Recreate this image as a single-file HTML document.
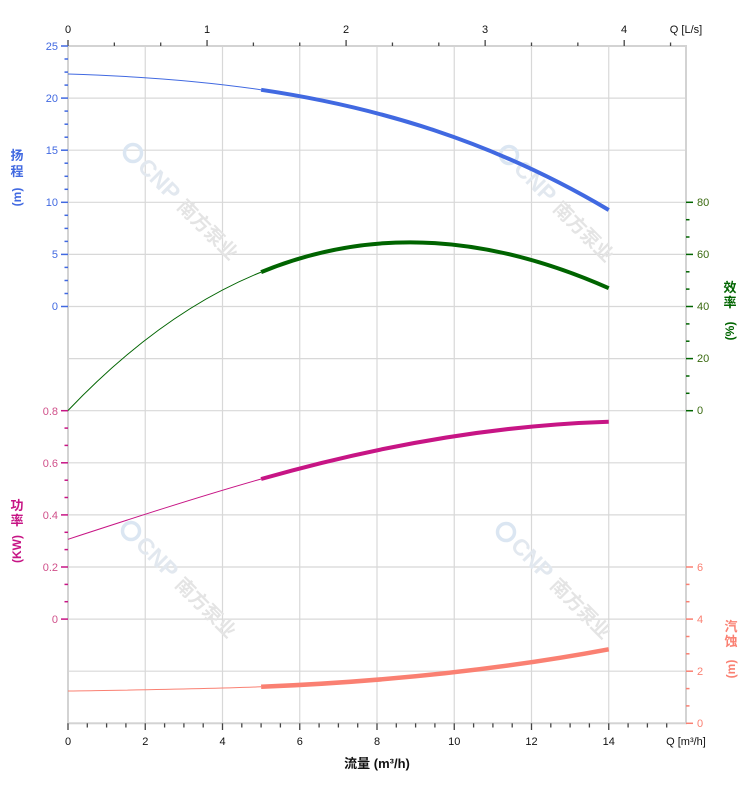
<!DOCTYPE html>
<html><head><meta charset="utf-8"><style>
html,body{margin:0;padding:0;background:#fff;}
svg{display:block;}
text{font-family:"Liberation Sans","Noto Sans CJK SC",sans-serif;}
</style></head><body>
<svg width="752" height="797" viewBox="0 0 752 797" xmlns="http://www.w3.org/2000/svg">
<rect width="752" height="797" fill="#fff"/>
<!-- grid -->
<g stroke="#d8d8d8" stroke-width="1.2" fill="none">
<line x1="68" y1="98.1" x2="686" y2="98.1"/>
<line x1="68" y1="150.2" x2="686" y2="150.2"/>
<line x1="68" y1="202.3" x2="686" y2="202.3"/>
<line x1="68" y1="254.4" x2="686" y2="254.4"/>
<line x1="68" y1="306.5" x2="686" y2="306.5"/>
<line x1="68" y1="358.6" x2="686" y2="358.6"/>
<line x1="68" y1="410.7" x2="686" y2="410.7"/>
<line x1="68" y1="462.8" x2="686" y2="462.8"/>
<line x1="68" y1="514.9" x2="686" y2="514.9"/>
<line x1="68" y1="567" x2="686" y2="567"/>
<line x1="68" y1="619.1" x2="686" y2="619.1"/>
<line x1="68" y1="671.2" x2="686" y2="671.2"/>
<line x1="145.25" y1="46" x2="145.25" y2="723.3"/>
<line x1="222.5" y1="46" x2="222.5" y2="723.3"/>
<line x1="299.75" y1="46" x2="299.75" y2="723.3"/>
<line x1="377" y1="46" x2="377" y2="723.3"/>
<line x1="454.25" y1="46" x2="454.25" y2="723.3"/>
<line x1="531.5" y1="46" x2="531.5" y2="723.3"/>
<line x1="608.75" y1="46" x2="608.75" y2="723.3"/>
</g>
<rect x="68" y="46" width="618" height="677.3" fill="none" stroke="#d3d3d3" stroke-width="2"/>

<!-- watermarks -->
<g font-weight="bold">
<g transform="translate(133,153) rotate(45)">
<circle cx="0" cy="0" r="8.5" fill="none" stroke="#dbe6f2" stroke-width="3.5"/>
<text x="13" y="8" font-size="23" fill="#e2e8ef">CNP</text>
<text x="69" y="8" font-size="19" fill="#e4e4e4" font-family="'Noto Sans CJK SC',sans-serif">南方泵业</text>
</g>
<g transform="translate(509,155) rotate(45)">
<circle cx="0" cy="0" r="8.5" fill="none" stroke="#dbe6f2" stroke-width="3.5"/>
<text x="13" y="8" font-size="23" fill="#e2e8ef">CNP</text>
<text x="69" y="8" font-size="19" fill="#e4e4e4" font-family="'Noto Sans CJK SC',sans-serif">南方泵业</text>
</g>
<g transform="translate(131,531) rotate(45)">
<circle cx="0" cy="0" r="8.5" fill="none" stroke="#dbe6f2" stroke-width="3.5"/>
<text x="13" y="8" font-size="23" fill="#e2e8ef">CNP</text>
<text x="69" y="8" font-size="19" fill="#e4e4e4" font-family="'Noto Sans CJK SC',sans-serif">南方泵业</text>
</g>
<g transform="translate(506,532) rotate(45)">
<circle cx="0" cy="0" r="8.5" fill="none" stroke="#dbe6f2" stroke-width="3.5"/>
<text x="13" y="8" font-size="23" fill="#e2e8ef">CNP</text>
<text x="69" y="8" font-size="19" fill="#e4e4e4" font-family="'Noto Sans CJK SC',sans-serif">南方泵业</text>
</g>
</g>

<!-- top ticks -->
<g stroke="#444" stroke-width="1.3">
<line x1="68" y1="40" x2="68" y2="46"/>
<line x1="114.35" y1="42.5" x2="114.35" y2="46"/>
<line x1="160.7" y1="42.5" x2="160.7" y2="46"/>
<line x1="207.05" y1="40" x2="207.05" y2="46"/>
<line x1="253.4" y1="42.5" x2="253.4" y2="46"/>
<line x1="299.75" y1="42.5" x2="299.75" y2="46"/>
<line x1="346.1" y1="40" x2="346.1" y2="46"/>
<line x1="392.45" y1="42.5" x2="392.45" y2="46"/>
<line x1="438.8" y1="42.5" x2="438.8" y2="46"/>
<line x1="485.15" y1="40" x2="485.15" y2="46"/>
<line x1="531.5" y1="42.5" x2="531.5" y2="46"/>
<line x1="577.85" y1="42.5" x2="577.85" y2="46"/>
<line x1="624.2" y1="40" x2="624.2" y2="46"/>
<line x1="670.55" y1="42.5" x2="670.55" y2="46"/>
</g>
<g font-size="11" fill="#111" text-anchor="middle">
<text x="68" y="33">0</text>
<text x="207" y="33">1</text>
<text x="346" y="33">2</text>
<text x="485" y="33">3</text>
<text x="624" y="33">4</text>
<text x="686" y="33">Q [L/s]</text>
</g>

<!-- bottom ticks -->
<g stroke="#444" stroke-width="1.3">
<line x1="68" y1="723.3" x2="68" y2="730"/>
<line x1="87.3" y1="723.3" x2="87.3" y2="727.5"/>
<line x1="106.6" y1="723.3" x2="106.6" y2="727.5"/>
<line x1="125.9" y1="723.3" x2="125.9" y2="727.5"/>
<line x1="145.25" y1="723.3" x2="145.25" y2="730"/>
<line x1="164.6" y1="723.3" x2="164.6" y2="727.5"/>
<line x1="183.9" y1="723.3" x2="183.9" y2="727.5"/>
<line x1="203.2" y1="723.3" x2="203.2" y2="727.5"/>
<line x1="222.5" y1="723.3" x2="222.5" y2="730"/>
<line x1="241.8" y1="723.3" x2="241.8" y2="727.5"/>
<line x1="261.1" y1="723.3" x2="261.1" y2="727.5"/>
<line x1="280.4" y1="723.3" x2="280.4" y2="727.5"/>
<line x1="299.75" y1="723.3" x2="299.75" y2="730"/>
<line x1="319.1" y1="723.3" x2="319.1" y2="727.5"/>
<line x1="338.4" y1="723.3" x2="338.4" y2="727.5"/>
<line x1="357.7" y1="723.3" x2="357.7" y2="727.5"/>
<line x1="377" y1="723.3" x2="377" y2="730"/>
<line x1="396.3" y1="723.3" x2="396.3" y2="727.5"/>
<line x1="415.6" y1="723.3" x2="415.6" y2="727.5"/>
<line x1="434.9" y1="723.3" x2="434.9" y2="727.5"/>
<line x1="454.25" y1="723.3" x2="454.25" y2="730"/>
<line x1="473.6" y1="723.3" x2="473.6" y2="727.5"/>
<line x1="492.9" y1="723.3" x2="492.9" y2="727.5"/>
<line x1="512.2" y1="723.3" x2="512.2" y2="727.5"/>
<line x1="531.5" y1="723.3" x2="531.5" y2="730"/>
<line x1="550.8" y1="723.3" x2="550.8" y2="727.5"/>
<line x1="570.1" y1="723.3" x2="570.1" y2="727.5"/>
<line x1="589.4" y1="723.3" x2="589.4" y2="727.5"/>
<line x1="608.75" y1="723.3" x2="608.75" y2="730"/>
<line x1="628.1" y1="723.3" x2="628.1" y2="727.5"/>
<line x1="647.4" y1="723.3" x2="647.4" y2="727.5"/>
<line x1="666.7" y1="723.3" x2="666.7" y2="727.5"/>
</g>
<g font-size="11" fill="#111" text-anchor="middle">
<text x="68" y="745">0</text>
<text x="145.25" y="745">2</text>
<text x="222.5" y="745">4</text>
<text x="299.75" y="745">6</text>
<text x="377" y="745">8</text>
<text x="454.25" y="745">10</text>
<text x="531.5" y="745">12</text>
<text x="608.75" y="745">14</text>
<text x="686" y="745">Q [m³/h]</text>
</g>
<text x="377" y="768" font-size="13" font-weight="bold" fill="#111" text-anchor="middle">流量 (m³/h)</text>

<!-- head axis (left, blue) -->
<g stroke="#4169E1" stroke-width="1.5">
<line x1="61" y1="46" x2="68" y2="46"/><line x1="61" y1="98.1" x2="68" y2="98.1"/><line x1="61" y1="150.2" x2="68" y2="150.2"/><line x1="61" y1="202.3" x2="68" y2="202.3"/><line x1="61" y1="254.4" x2="68" y2="254.4"/><line x1="61" y1="306.5" x2="68" y2="306.5"/>
<line x1="64.5" y1="59" x2="68" y2="59"/><line x1="64.5" y1="72.1" x2="68" y2="72.1"/><line x1="64.5" y1="85.1" x2="68" y2="85.1"/>
<line x1="64.5" y1="111.1" x2="68" y2="111.1"/><line x1="64.5" y1="124.2" x2="68" y2="124.2"/><line x1="64.5" y1="137.2" x2="68" y2="137.2"/>
<line x1="64.5" y1="163.2" x2="68" y2="163.2"/><line x1="64.5" y1="176.3" x2="68" y2="176.3"/><line x1="64.5" y1="189.3" x2="68" y2="189.3"/>
<line x1="64.5" y1="215.3" x2="68" y2="215.3"/><line x1="64.5" y1="228.4" x2="68" y2="228.4"/><line x1="64.5" y1="241.4" x2="68" y2="241.4"/>
<line x1="64.5" y1="267.4" x2="68" y2="267.4"/><line x1="64.5" y1="280.5" x2="68" y2="280.5"/><line x1="64.5" y1="293.5" x2="68" y2="293.5"/>
</g>
<g font-size="11" fill="#4169E1" text-anchor="end">
<text x="58" y="50">25</text><text x="58" y="102">20</text><text x="58" y="154">15</text><text x="58" y="206">10</text><text x="58" y="258">5</text><text x="58" y="310">0</text>
</g>
<g fill="#4169E1" font-weight="bold" font-size="13" text-anchor="middle">
<text x="17" y="160" font-family="'Noto Sans CJK SC',sans-serif">扬</text>
<text x="17" y="176" font-family="'Noto Sans CJK SC',sans-serif">程</text>
<text transform="translate(21,197) rotate(-90)" font-size="12">(m)</text>
</g>

<!-- power axis (left, magenta) -->
<g stroke="#C71585" stroke-width="1.5">
<line x1="61" y1="410.7" x2="68" y2="410.7"/><line x1="61" y1="462.8" x2="68" y2="462.8"/><line x1="61" y1="514.9" x2="68" y2="514.9"/><line x1="61" y1="567" x2="68" y2="567"/><line x1="61" y1="619.1" x2="68" y2="619.1"/>
<line x1="64.5" y1="428.1" x2="68" y2="428.1"/><line x1="64.5" y1="445.4" x2="68" y2="445.4"/>
<line x1="64.5" y1="480.2" x2="68" y2="480.2"/><line x1="64.5" y1="497.5" x2="68" y2="497.5"/>
<line x1="64.5" y1="532.3" x2="68" y2="532.3"/><line x1="64.5" y1="549.6" x2="68" y2="549.6"/>
<line x1="64.5" y1="584.4" x2="68" y2="584.4"/><line x1="64.5" y1="601.7" x2="68" y2="601.7"/>
</g>
<g font-size="11" fill="#D0508A" text-anchor="end">
<text x="58" y="415">0.8</text><text x="58" y="467">0.6</text><text x="58" y="519">0.4</text><text x="58" y="571">0.2</text><text x="58" y="623">0</text>
</g>
<g fill="#C71585" font-weight="bold" font-size="13" text-anchor="middle">
<text x="17" y="510" font-family="'Noto Sans CJK SC',sans-serif">功</text>
<text x="17" y="525" font-family="'Noto Sans CJK SC',sans-serif">率</text>
<text transform="translate(21,549) rotate(-90)" font-size="12">(KW)</text>
</g>

<!-- efficiency axis (right, green) -->
<g stroke="#006400" stroke-width="1.5">
<line x1="686" y1="202.3" x2="693" y2="202.3"/><line x1="686" y1="254.4" x2="693" y2="254.4"/><line x1="686" y1="306.5" x2="693" y2="306.5"/><line x1="686" y1="358.6" x2="693" y2="358.6"/><line x1="686" y1="410.7" x2="693" y2="410.7"/>
<line x1="686" y1="219.7" x2="689.5" y2="219.7"/><line x1="686" y1="237" x2="689.5" y2="237"/>
<line x1="686" y1="271.8" x2="689.5" y2="271.8"/><line x1="686" y1="289.1" x2="689.5" y2="289.1"/>
<line x1="686" y1="323.9" x2="689.5" y2="323.9"/><line x1="686" y1="341.2" x2="689.5" y2="341.2"/>
<line x1="686" y1="376" x2="689.5" y2="376"/><line x1="686" y1="393.3" x2="689.5" y2="393.3"/>
</g>
<g font-size="11" fill="#3a6a10" text-anchor="start">
<text x="697" y="206">80</text><text x="697" y="258">60</text><text x="697" y="310">40</text><text x="697" y="362">20</text><text x="697" y="414">0</text>
</g>
<g fill="#006400" font-weight="bold" font-size="13" text-anchor="middle">
<text x="730" y="292" font-family="'Noto Sans CJK SC',sans-serif">效</text>
<text x="730" y="307" font-family="'Noto Sans CJK SC',sans-serif">率</text>
<text transform="translate(734,331) rotate(-90)" font-size="12">(%)</text>
</g>

<!-- NPSH axis (right, salmon) -->
<g stroke="#FA8072" stroke-width="1.5">
<line x1="686" y1="567" x2="693" y2="567"/><line x1="686" y1="619.1" x2="693" y2="619.1"/><line x1="686" y1="671.2" x2="693" y2="671.2"/><line x1="686" y1="723.3" x2="693" y2="723.3"/>
<line x1="686" y1="584.4" x2="689.5" y2="584.4"/><line x1="686" y1="601.7" x2="689.5" y2="601.7"/>
<line x1="686" y1="636.5" x2="689.5" y2="636.5"/><line x1="686" y1="653.8" x2="689.5" y2="653.8"/>
<line x1="686" y1="688.6" x2="689.5" y2="688.6"/><line x1="686" y1="705.9" x2="689.5" y2="705.9"/>
</g>
<g font-size="11" fill="#FA8072" text-anchor="start">
<text x="697" y="571">6</text><text x="697" y="623">4</text><text x="697" y="675">2</text><text x="697" y="727">0</text>
</g>
<g fill="#FA8072" font-weight="bold" font-size="13" text-anchor="middle">
<text x="731" y="631" font-family="'Noto Sans CJK SC',sans-serif">汽</text>
<text x="731" y="646" font-family="'Noto Sans CJK SC',sans-serif">蚀</text>
<text transform="translate(735,669) rotate(-90)" font-size="12">(m)</text>
</g>

<!-- curves -->
<g fill="none" stroke-linecap="butt">
<!-- head -->
<path stroke="#4169E1" stroke-width="1" d="M68,74 C132.375,76.03 196.75,80.29 261.125,89.82"/>
<path stroke="#4169E1" stroke-width="4" d="M261.125,89.82 C377,106.97 492.875,141.15 608.75,210"/>
<!-- efficiency -->
<path stroke="#006400" stroke-width="1" d="M68,410.5 C132.375,342.9 196.75,298.2 261.125,272.1"/>
<path stroke="#006400" stroke-width="4" d="M261.125,272.1 C377,224.5 492.875,237 608.75,288.2"/>
<!-- power -->
<path stroke="#C71585" stroke-width="1" d="M68,539.3 C132.4,518.3 196.75,497.3 261.125,479"/>
<path stroke="#C71585" stroke-width="4" d="M261.125,479 C377,446 492.875,425.3 608.75,421.7"/>
<!-- npsh -->
<path stroke="#FA8072" stroke-width="1" d="M68,691 C132.4,690 196.75,689.3 261.125,686.8"/>
<path stroke="#FA8072" stroke-width="4.5" d="M261.125,686.8 C377,682 492.875,671 608.75,649.3"/>
</g>
</svg>
</body></html>
